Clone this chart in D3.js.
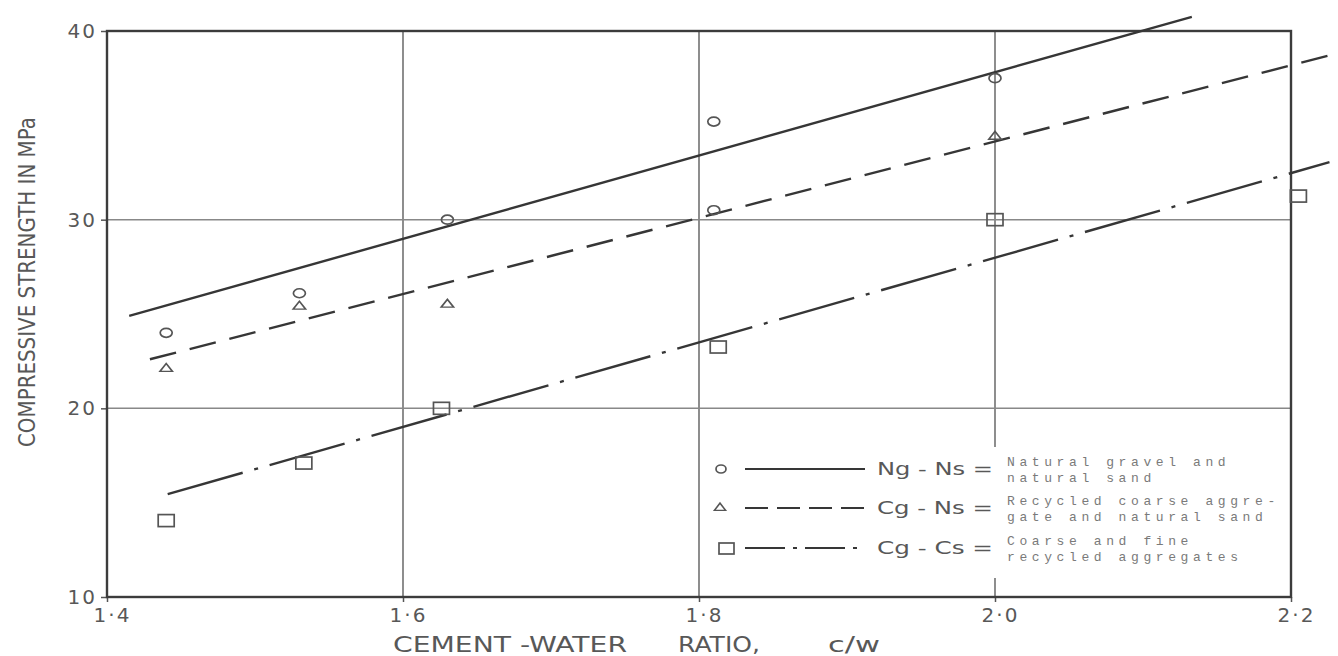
<!DOCTYPE html>
<html>
<head>
<meta charset="utf-8">
<script src="https://cdn.jsdelivr.net/npm/d3@7"></script>
<style>
  body { margin: 0; background: #fff; }
  svg { display: block; }
</style>
</head>
<body>
<div id="chart"></div>
<script>
// ticks
const xTicks = [1.4, 1.6, 1.8, 2.0, 2.2];
const xTickLabels = ['1·4', '1·6', '1·8', '2·0', '2·2'];
const yTicks = [10, 20, 30, 40];
const xGrid = [1.6, 1.8, 2.0];
const yGrid = [20, 30];

// measured points
const ngNsX = [1.44, 1.53, 1.63, 1.81, 1.81, 2.0];
const ngNsY = [24.0, 26.1, 30.0, 35.2, 30.5, 37.5];
const cgNsX = [1.44, 1.53, 1.63, 2.0];
const cgNsY = [22.1, 25.4, 25.5, 34.4];
const cgCsX = [1.44, 1.533, 1.626, 1.813, 2.0, 2.205];
const cgCsY = [14.05, 17.1, 20.0, 23.25, 30.0, 31.25];

// fitted lines (end points)
const ngNsFitX = [1.415, 2.133];
const ngNsFitY = [24.9, 40.75];
const cgNsFitX = [1.429, 2.228];
const cgNsFitY = [22.6, 38.75];
const cgCsFitX = [1.441, 2.226];
const cgCsFitY = [15.45, 33.05];

const legendKeys = ['Ng - Ns =', 'Cg - Ns =', 'Cg - Cs ='];
const legendText = [
  ['Natural gravel and', 'natural sand'],
  ['Recycled coarse aggre-', 'gate and natural sand'],
  ['Coarse and fine', 'recycled aggregates']
];

const width = 1338, height = 656;
const ink = '#363636', grey = '#585858';
const labelFont = '"DejaVu Sans", sans-serif';

const x = d3.scaleLinear().domain([1.4, 2.2]).range([107, 1291]);
const y = d3.scaleLinear().domain([10, 40]).range([597, 31]);

const svg = d3.select('#chart').append('svg')
  .attr('width', width)
  .attr('height', height);

// grid
svg.selectAll('line.vgrid').data(xGrid).enter().append('line')
  .attr('class', 'vgrid')
  .attr('x1', d => x(d)).attr('x2', d => x(d))
  .attr('y1', y(40)).attr('y2', y(10))
  .style('stroke', '#7a7a7a').style('stroke-width', 1.7);
svg.selectAll('line.hgrid').data(yGrid).enter().append('line')
  .attr('class', 'hgrid')
  .attr('x1', x(1.4)).attr('x2', x(2.2))
  .attr('y1', d => y(d)).attr('y2', d => y(d))
  .style('stroke', '#888').style('stroke-width', 1.5);

// axes
const xAxis = svg.append('g')
  .attr('transform', `translate(0,${y(10)})`)
  .call(d3.axisBottom(x).tickValues(xTicks).tickSize(5).tickPadding(6)
    .tickFormat((d, i) => xTickLabels[i]));
const yAxis = svg.append('g')
  .attr('transform', `translate(${x(1.4)},0)`)
  .call(d3.axisLeft(y).tickValues(yTicks).tickSize(6).tickPadding(4));

[xAxis, yAxis].forEach(a => {
  a.select('.domain').remove();
  a.selectAll('line').style('stroke', '#555').style('stroke-width', 1.5);
  a.selectAll('text')
    .style('font-family', labelFont)
    .style('font-size', '20px')
    .style('letter-spacing', '2px')
    .style('fill', grey);
});
xAxis.selectAll('text').attr('dx', 5);

// frame
svg.append('rect')
  .attr('x', x(1.4)).attr('y', y(40))
  .attr('width', x(2.2) - x(1.4)).attr('height', y(10) - y(40))
  .style('fill', 'none').style('stroke', '#3c3c3c').style('stroke-width', 2.4);

// legend background hides the 2.0 grid line
svg.append('rect')
  .attr('x', x(1.8) + 4).attr('y', 447)
  .attr('width', x(2.2) - x(1.8) - 8).attr('height', 131)
  .style('fill', '#fff');

// fitted lines
const fits = [
  { xs: ngNsFitX, ys: ngNsFitY, dash: null },
  { xs: cgNsFitX, ys: cgNsFitY, dash: '27,14' },
  { xs: cgCsFitX, ys: cgCsFitY, dash: '78,12,4,12' }
];
fits.forEach(f => {
  svg.append('line')
    .attr('x1', x(f.xs[0])).attr('y1', y(f.ys[0]))
    .attr('x2', x(f.xs[1])).attr('y2', y(f.ys[1]))
    .style('stroke', ink).style('stroke-width', 2.4)
    .style('stroke-dasharray', f.dash);
});

// markers
const markStyle = s => s.style('fill', 'none').style('stroke', '#555').style('stroke-width', 1.7);

svg.selectAll('ellipse.ng').data(d3.zip(ngNsX, ngNsY)).enter().append('ellipse')
  .attr('class', 'ng')
  .attr('cx', d => x(d[0])).attr('cy', d => y(d[1]))
  .attr('rx', 6).attr('ry', 4.5)
  .call(markStyle);

const tri = d3.symbol().type(d3.symbolTriangle).size(55);
svg.selectAll('path.cgns').data(d3.zip(cgNsX, cgNsY)).enter().append('path')
  .attr('class', 'cgns')
  .attr('d', tri)
  .attr('transform', d => `translate(${x(d[0])},${y(d[1])}) scale(1.1,0.8)`)
  .call(markStyle);

svg.selectAll('rect.cgcs').data(d3.zip(cgCsX, cgCsY)).enter().append('rect')
  .attr('class', 'cgcs')
  .attr('x', d => x(d[0]) - 8).attr('y', d => y(d[1]) - 6)
  .attr('width', 16).attr('height', 12)
  .call(markStyle);

// legend
const rowY = [469, 508, 548];
const legend = svg.append('g');
legend.append('ellipse').attr('cx', 721).attr('cy', rowY[0]).attr('rx', 5).attr('ry', 4).call(markStyle);
legend.append('path').attr('d', tri)
  .attr('transform', `translate(720,${rowY[1]}) scale(1,0.75)`).call(markStyle);
legend.append('rect').attr('x', 719).attr('y', rowY[2] - 5).attr('width', 15).attr('height', 11).call(markStyle);

const legendDash = [null, '23,9', '40,8,4,8'];
rowY.forEach((ry, i) => {
  legend.append('line')
    .attr('x1', 745).attr('x2', 865).attr('y1', ry).attr('y2', ry)
    .style('stroke', ink).style('stroke-width', 2.2)
    .style('stroke-dasharray', legendDash[i]);
  legend.append('text')
    .attr('x', 877).attr('y', ry + 6)
    .attr('textLength', 116).attr('lengthAdjust', 'spacingAndGlyphs')
    .style('font-family', labelFont).style('font-size', '18px').style('fill', grey)
    .text(legendKeys[i]);
  legendText[i].forEach((t, j) => {
    legend.append('text')
      .attr('x', 1007).attr('y', ry - 3 + j * 16)
      .style('font-family', '"Liberation Mono", monospace')
      .style('font-size', '13px').style('letter-spacing', '4.6px')
      .style('fill', '#7a7a7a')
      .text(t);
  });
});

// axis titles
const xTitle = [['CEMENT -WATER', 393, 234], ['RATIO,', 678, 82], ['c/w', 828, 52]];
xTitle.forEach(t => {
  svg.append('text')
    .attr('x', t[1]).attr('y', 652)
    .attr('textLength', t[2]).attr('lengthAdjust', 'spacingAndGlyphs')
    .style('font-family', labelFont).style('font-size', '21px').style('fill', grey)
    .text(t[0]);
});

svg.append('text')
  .attr('transform', 'translate(35,447) rotate(-90)')
  .attr('textLength', 330).attr('lengthAdjust', 'spacingAndGlyphs')
  .style('font-family', labelFont).style('font-size', '23px').style('fill', grey)
  .text('COMPRESSIVE  STRENGTH  IN  MPa');
</script>
</body>
</html>
